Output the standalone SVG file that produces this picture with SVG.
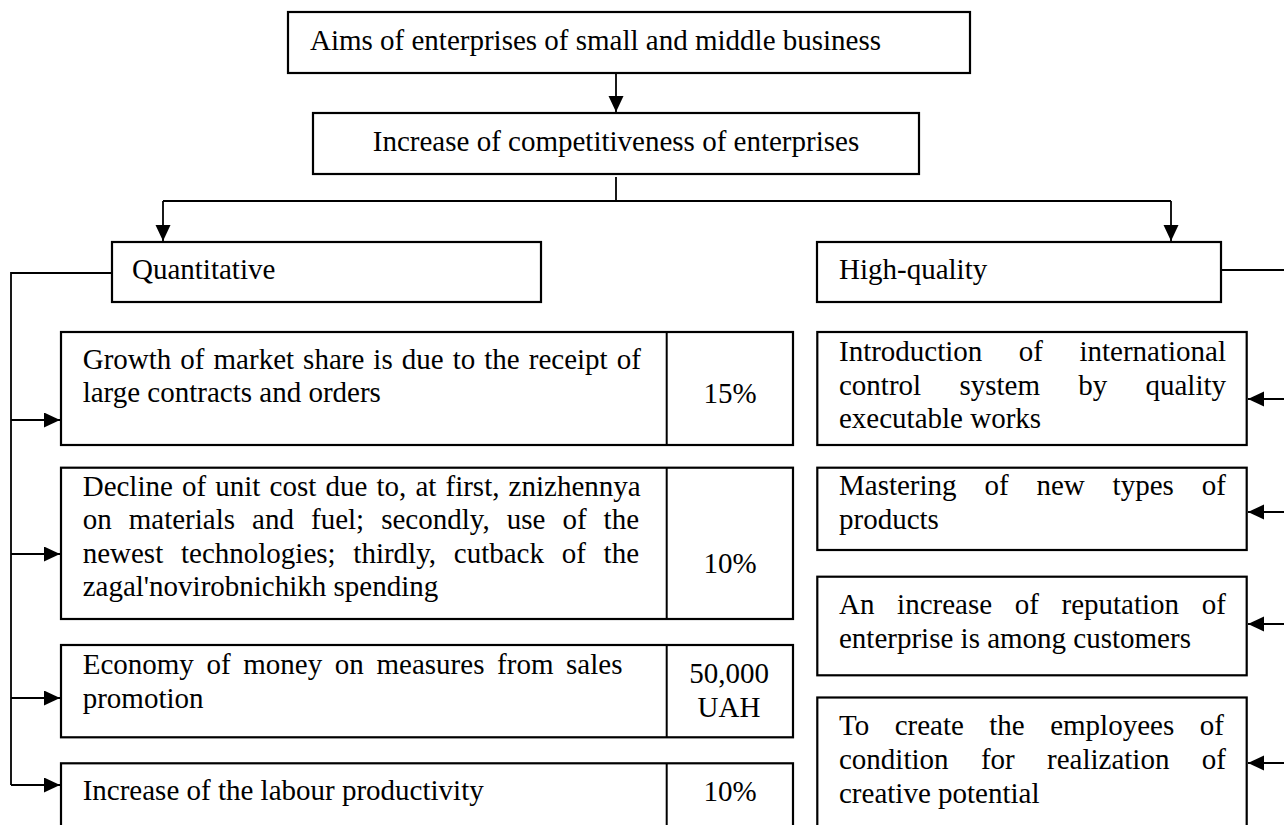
<svg xmlns="http://www.w3.org/2000/svg" width="1284" height="825" viewBox="0 0 1284 825">
<style>
text { font-family: "Liberation Serif", "Times New Roman", serif; font-size: 29px; fill: #000; }
.box { fill: #fff; stroke: #000; stroke-width: 2.2; }
.div { stroke: #000; stroke-width: 2; fill: none; }
.con { stroke: #000; stroke-width: 1.8; fill: none; }
.c { text-anchor: middle; }
</style>
<defs>
<marker id="arr" markerUnits="userSpaceOnUse" markerWidth="17" markerHeight="16" refX="16" refY="7.5" orient="auto">
<path d="M0,0 L16,7.5 L0,15 z" fill="#000"/>
</marker>
</defs>
<rect width="1284" height="825" fill="#fff"/>

<g id="connectors">
<line class="con" x1="616" y1="73" x2="616" y2="112" marker-end="url(#arr)"/>
<line class="con" x1="616" y1="177" x2="616" y2="201"/>
<line class="con" x1="163" y1="201" x2="1171" y2="201"/>
<line class="con" x1="163" y1="201" x2="163" y2="241" marker-end="url(#arr)"/>
<line class="con" x1="1171" y1="201" x2="1171" y2="241" marker-end="url(#arr)"/>
<path class="con" d="M112,273 H11 V785"/>
<line class="con" x1="11" y1="420" x2="60" y2="420" marker-end="url(#arr)"/>
<line class="con" x1="11" y1="554" x2="60" y2="554" marker-end="url(#arr)"/>
<line class="con" x1="11" y1="698" x2="60" y2="698" marker-end="url(#arr)"/>
<line class="con" x1="11" y1="785" x2="60" y2="785" marker-end="url(#arr)"/>
<path class="con" d="M1221,270 H1292 V763"/>
<line class="con" x1="1292" y1="399" x2="1248" y2="399" marker-end="url(#arr)"/>
<line class="con" x1="1292" y1="512" x2="1248" y2="512" marker-end="url(#arr)"/>
<line class="con" x1="1292" y1="624" x2="1248" y2="624" marker-end="url(#arr)"/>
<line class="con" x1="1292" y1="763" x2="1248" y2="763" marker-end="url(#arr)"/>
</g>

<g id="aims">
<rect class="box" x="288" y="12" width="682" height="61"/>
<text x="310" y="50">Aims of enterprises of small and middle business</text>
</g>

<g id="competitiveness">
<rect class="box" x="313" y="113" width="606" height="61"/>
<text class="c" x="616" y="151">Increase of competitiveness of enterprises</text>
</g>

<g id="quantitative">
<rect class="box" x="112" y="242" width="429" height="60"/>
<text x="132" y="279">Quantitative</text>
</g>

<g id="high-quality">
<rect class="box" x="817" y="242" width="404" height="60"/>
<text x="839" y="279">High-quality</text>
</g>

<g id="q1">
<rect class="box" x="61" y="332" width="732" height="113"/>
<line class="div" x1="666.7" y1="332" x2="666.7" y2="445"/>
<text x="82.7" y="369" word-spacing="1.8">Growth of market share is due to the receipt of</text>
<text x="82.7" y="402">large contracts and orders</text>
<text class="c" x="730" y="403">15%</text>
</g>

<g id="q2">
<rect class="box" x="61" y="467.7" width="732" height="151.3"/>
<line class="div" x1="666.7" y1="467.7" x2="666.7" y2="619"/>
<text x="82.7" y="496" word-spacing="1.9">Decline of unit cost due to, at first, znizhennya</text>
<text x="82.7" y="529" word-spacing="9.8">on materials and fuel; secondly, use of the</text>
<text x="82.7" y="562.5" word-spacing="10.5">newest technologies; thirdly, cutback of the</text>
<text x="82.7" y="596">zagal'novirobnichikh spending</text>
<text class="c" x="730" y="573">10%</text>
</g>

<g id="q3">
<rect class="box" x="61" y="645" width="732" height="92.3"/>
<line class="div" x1="666.7" y1="645" x2="666.7" y2="737.3"/>
<text x="82.7" y="674" word-spacing="5.4">Economy of money on measures from sales</text>
<text x="82.7" y="708">promotion</text>
<text class="c" x="729" y="683">50,000</text>
<text class="c" x="729" y="717">UAH</text>
</g>

<g id="q4">
<rect class="box" x="61" y="763.3" width="732" height="80"/>
<line class="div" x1="666.7" y1="763.3" x2="666.7" y2="843"/>
<text x="82.7" y="800">Increase of the labour productivity</text>
<text class="c" x="730" y="801">10%</text>
</g>

<g id="h1">
<rect class="box" x="817.3" y="332" width="429.4" height="113"/>
<text x="839" y="361" word-spacing="29.2">Introduction of international</text>
<text x="839" y="394.5" word-spacing="31">control system by quality</text>
<text x="839" y="428">executable works</text>
</g>

<g id="h2">
<rect class="box" x="817.3" y="467.7" width="429.4" height="82.3"/>
<text x="839" y="495" word-spacing="20.6">Mastering of new types of</text>
<text x="839" y="528.5">products</text>
</g>

<g id="h3">
<rect class="box" x="817.3" y="576.7" width="429.4" height="98.6"/>
<text x="839" y="614" word-spacing="15.4">An increase of reputation of</text>
<text x="839" y="648">enterprise is among customers</text>
</g>

<g id="h4">
<rect class="box" x="817.3" y="697.5" width="429.4" height="145"/>
<text x="839" y="735" word-spacing="18.2">To create the employees of</text>
<text x="839" y="769" word-spacing="25.1">condition for realization of</text>
<text x="839" y="802.5">creative potential</text>
</g>
</svg>
